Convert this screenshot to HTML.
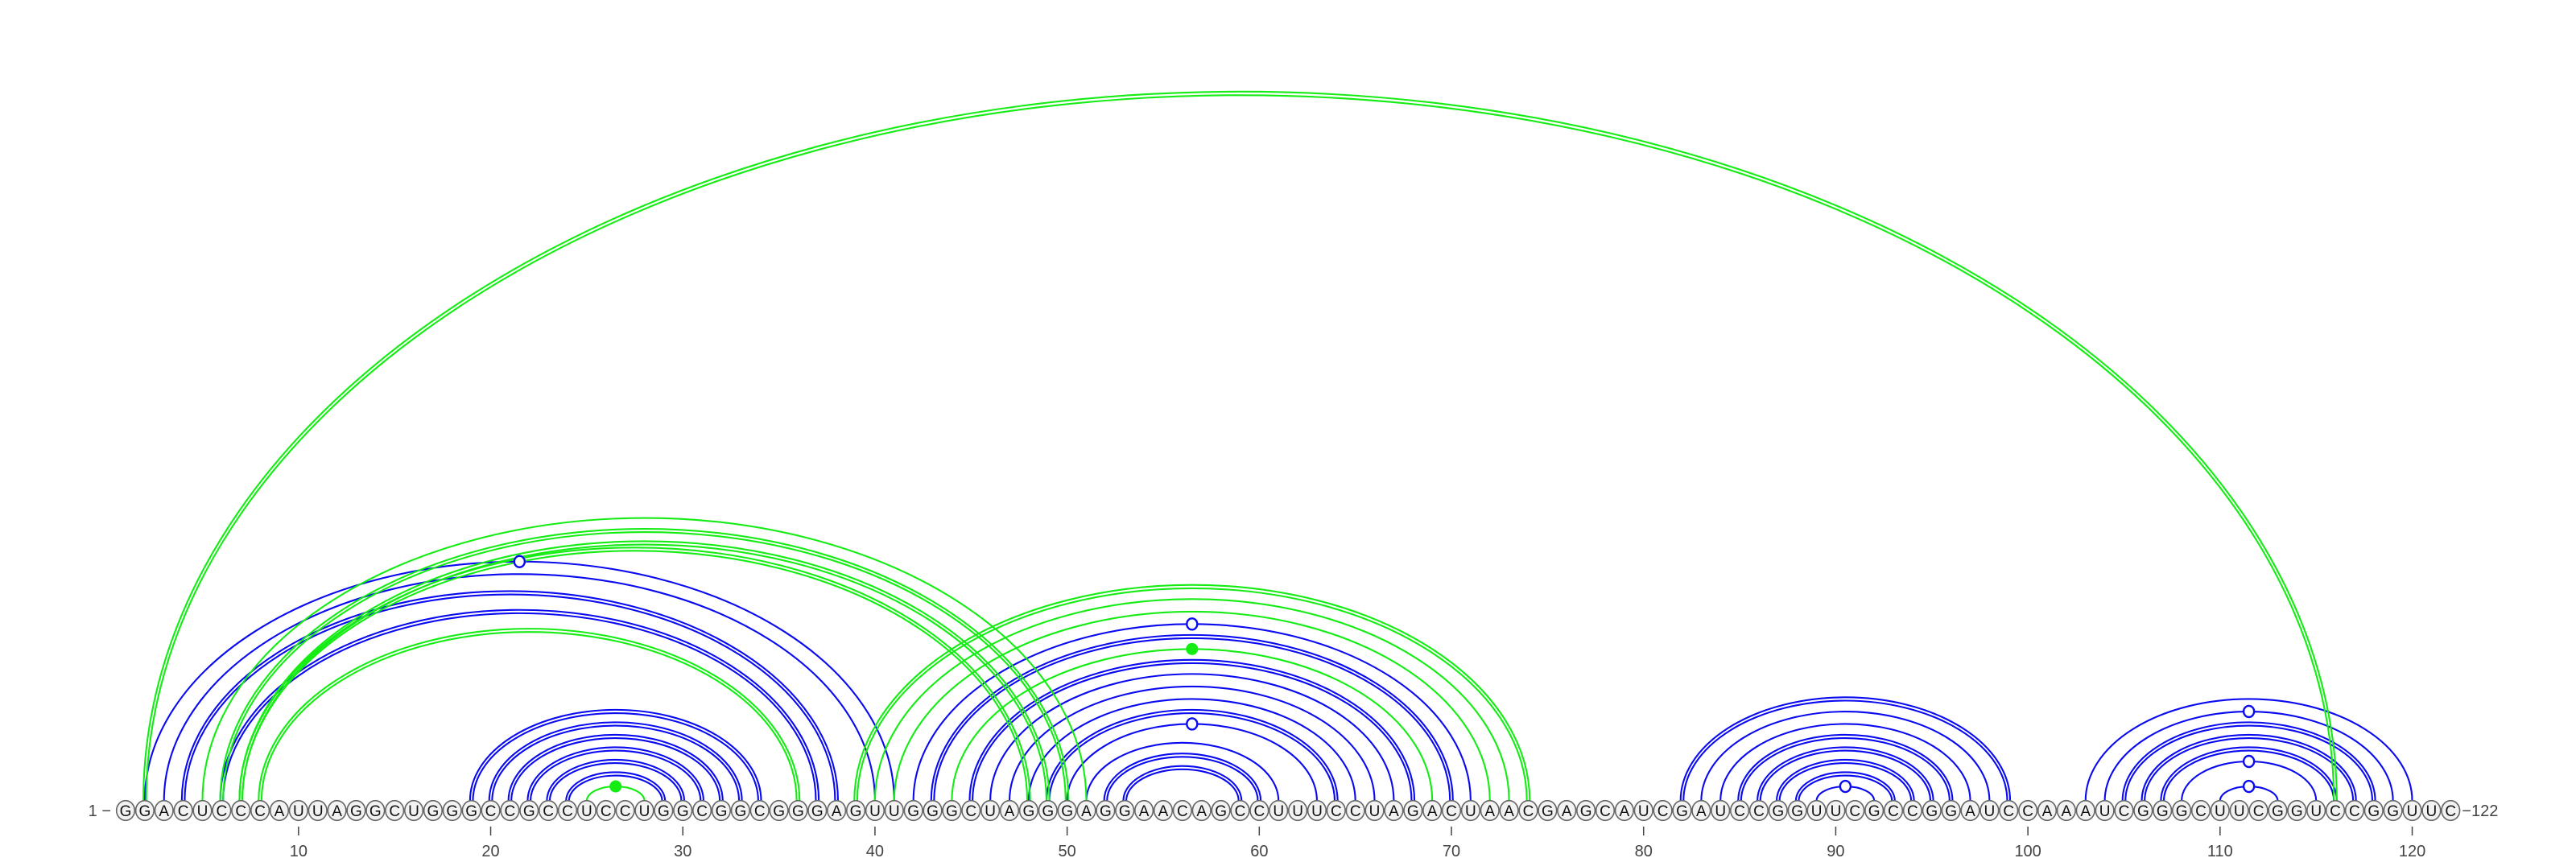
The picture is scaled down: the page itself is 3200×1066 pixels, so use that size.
<!DOCTYPE html>
<html><head><meta charset="utf-8"><style>
html,body{margin:0;padding:0;background:#fff;}
svg{display:block;font-family:"Liberation Sans",sans-serif;}
</style></head><body>
<svg id="chart" width="3200" height="1066" viewBox="0 0 3200 1066" xmlns="http://www.w3.org/2000/svg">
<g id="arcs"></g>
<g id="markers"></g>
<g id="nts"></g>
<g id="ticks"></g>
</svg>
<script>
const sequence = "GGACUCCCAUUAGGCUGGGCCGCCUCCUGGCGGCGGGAGUUGGGCUAGGGAGGAACAGCCUUUCCUAGACUAACGAGCAUCGAUCCGGUUCGCCGGAUCCAAAUCGGGCUUCGGUCCGGUUC";
const pairStart = [2,3,42,46,47,48,50,51,84,83,89,103,104,108,110, 4,6,19,20,21,22,23,24,43,45,49,52,53,82,85,86,87,88,105,106,107, 5,25,40,41,44, 2,6,7,7,8,39];
const pairEnd   = [41,40,71,67,66,65,63,61,97,98,92,120,119,115,113, 38,37,34,33,32,31,30,29,70,68,64,60,59,99,96,95,94,93,118,117,116, 51,28,73,72,69, 116,50,49,48,36,74];
const pairColor = ["b","b","b","b","b","b","b","b","b","b","b","b","b","b","b", "b","b","b","b","b","b","b","b","b","b","b","b","b","b","b","b","b","b","b","b","b", "g","g","g","g","g", "g","g","g","g","g","g"];
const pairDouble = [0,0,0,0,0,0,0,0,0,0,0,0,0,0,0, 1,1,1,1,1,1,1,1,1,1,1,1,1,1,1,1,1,1,1,1,1, 0,0,0,0,0, 1,1,1,1,1,1];
const openMarkerStart = [2,42,50,89,104,108,110];
const openMarkerEnd   = [41,71,63,92,119,115,113];
const filledMarkerStart = [25,44];
const filledMarkerEnd   = [28,69];
const tickValues = [10,20,30,40,50,60,70,80,90,100,110,120];

const NS = "http://www.w3.org/2000/svg";
const X0 = 156, STEP = 23.87, Y0 = 995, CY = 1007;
const BLUE = "#0a0af0", GREEN = "#14ec14";
function xPos(p){ return X0 + (p-1)*STEP; }
function arcRy(rx){ return Math.max(2, 0.65*rx - 5.3); }
function mk(tag, attrs, parent){ const e=document.createElementNS(NS,tag); for(const k in attrs) e.setAttribute(k,attrs[k]); parent.appendChild(e); return e; }

const arcs = document.getElementById("arcs");
function drawArc(i, j, color, off, parent){
  const cx = (xPos(i)+xPos(j))/2;
  const base = (xPos(j)-xPos(i))/2;
  const rx = base + off;
  const ry = arcRy(base) + off*1.15;
  return mk("path",{d:`M ${cx-rx} ${Y0} A ${rx} ${ry} 0 0 1 ${cx+rx} ${Y0}`, fill:"none", stroke:color, "stroke-width":2.1}, parent);
}
["b","g"].forEach(c=>{
  for(let k=0;k<pairStart.length;k++){
    if(pairColor[k]!==c) continue;
    const col = c==="b"?BLUE:GREEN;
    const g = mk("g",{},arcs);
    
    
    if(pairDouble[k]){ drawArc(pairStart[k],pairEnd[k],col,-1.8,g); drawArc(pairStart[k],pairEnd[k],col,1.8,g); }
    else drawArc(pairStart[k],pairEnd[k],col,0,g);
  }
});

const markers = document.getElementById("markers");
for(let k=0;k<openMarkerStart.length;k++){
  const i=openMarkerStart[k], j=openMarkerEnd[k];
  const rx=(xPos(j)-xPos(i))/2;
  const c = mk("ellipse",{cx:(xPos(i)+xPos(j))/2, cy:Y0-arcRy(rx), rx:6.5, ry:7, fill:"#fff", stroke:BLUE, "stroke-width":2.4}, markers);
  
  
}
for(let k=0;k<filledMarkerStart.length;k++){
  const i=filledMarkerStart[k], j=filledMarkerEnd[k];
  const rx=(xPos(j)-xPos(i))/2;
  const c = mk("circle",{cx:(xPos(i)+xPos(j))/2, cy:Y0-arcRy(rx), r:7.5, fill:GREEN}, markers);
  
  
}

const nts = document.getElementById("nts");
const l1 = mk("text",{x:xPos(1)-18, y:CY+7, "text-anchor":"end", "font-size":20, fill:"#444"}, nts);
l1.textContent = "1 \u2212";


for(let p=1;p<=sequence.length;p++){
  const g = mk("g",{},nts);
  
  
  mk("ellipse",{cx:xPos(p), cy:CY, rx:11.3, ry:12.3, fill:"#f2f2f2", stroke:"#666", "stroke-width":1.6}, g);
  const t = mk("text",{x:xPos(p), y:CY+7, "text-anchor":"middle", "font-size":19, fill:"#111"}, g);
  t.textContent = sequence[p-1];
}
const lEnd = mk("text",{x:xPos(sequence.length)+14, y:CY+7, "text-anchor":"start", "font-size":20, fill:"#444"}, nts);
lEnd.textContent = "\u2212" + sequence.length;



const ticks = document.getElementById("ticks");
tickValues.forEach(v=>{
  const g = mk("g",{},ticks);
  
  
  mk("line",{x1:xPos(v), x2:xPos(v), y1:1027, y2:1038, stroke:"#444", "stroke-width":1.5}, g);
  const t = mk("text",{x:xPos(v), y:1064, "text-anchor":"middle", "font-size":20, fill:"#444"}, g);
  t.textContent = v;
});
</script>
</body></html>
